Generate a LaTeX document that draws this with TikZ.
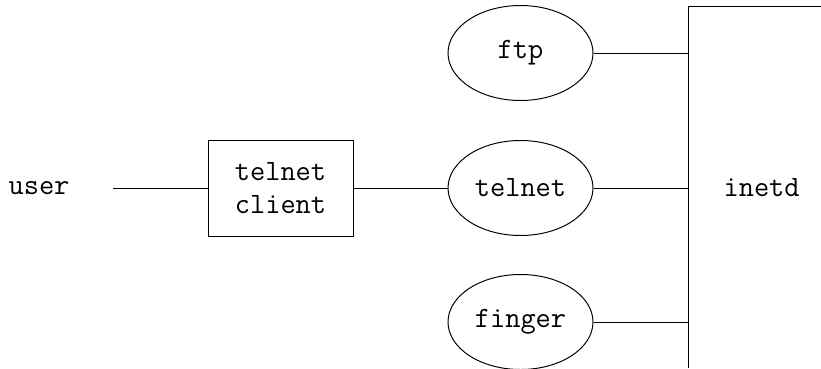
\documentclass[tikz,border=0pt]{standalone}
\usetikzlibrary{shapes,positioning,shapes.geometric}

\begin{document}
\begin{tikzpicture}[
				line width=0.7pt,
				every node/.style={font=\fontsize{21}{24}\selectfont\ttfamily},
				prog/.style={draw, rectangle, minimum width=3.625cm, minimum height=2.4cm, align=center, inner sep=0pt},
				daemon/.style={draw, ellipse, minimum width=3.625cm, minimum height=2.375cm, inner sep=0pt}
				]
				\useasboundingbox (0,0) rectangle (20.525,9.2);
				\node (user) at (0.975,4.5) {user};
				\coordinate (userend) at (2.825,4.5);
				\node[prog] (client) at (7.0125,4.5) {telnet\\client};
				\node[daemon] (telnet) at (13.0125,4.5) {telnet};
				\node[daemon] (ftp) at (13.0125,7.875) {ftp};
				\node[daemon] (finger) at (13.0125,1.15) {finger};
				\coordinate (bustop) at (17.2,9.05);
				\coordinate (busbot) at (17.2,0);
				\coordinate (busright) at (20.525,9.05);
				\node (inetd) at (19.04,4.5) {inetd};
				
				\draw (userend) -- (client);
				\draw (client) -- (telnet);
				\draw (busright) -- (bustop) -- (busbot);
				\draw (ftp.east) -- (ftp.east -| bustop);
				\draw (telnet.east) -- (telnet.east -| bustop);
				\draw (finger.east) -- (finger.east -| bustop);
			\end{tikzpicture}
\end{document}
